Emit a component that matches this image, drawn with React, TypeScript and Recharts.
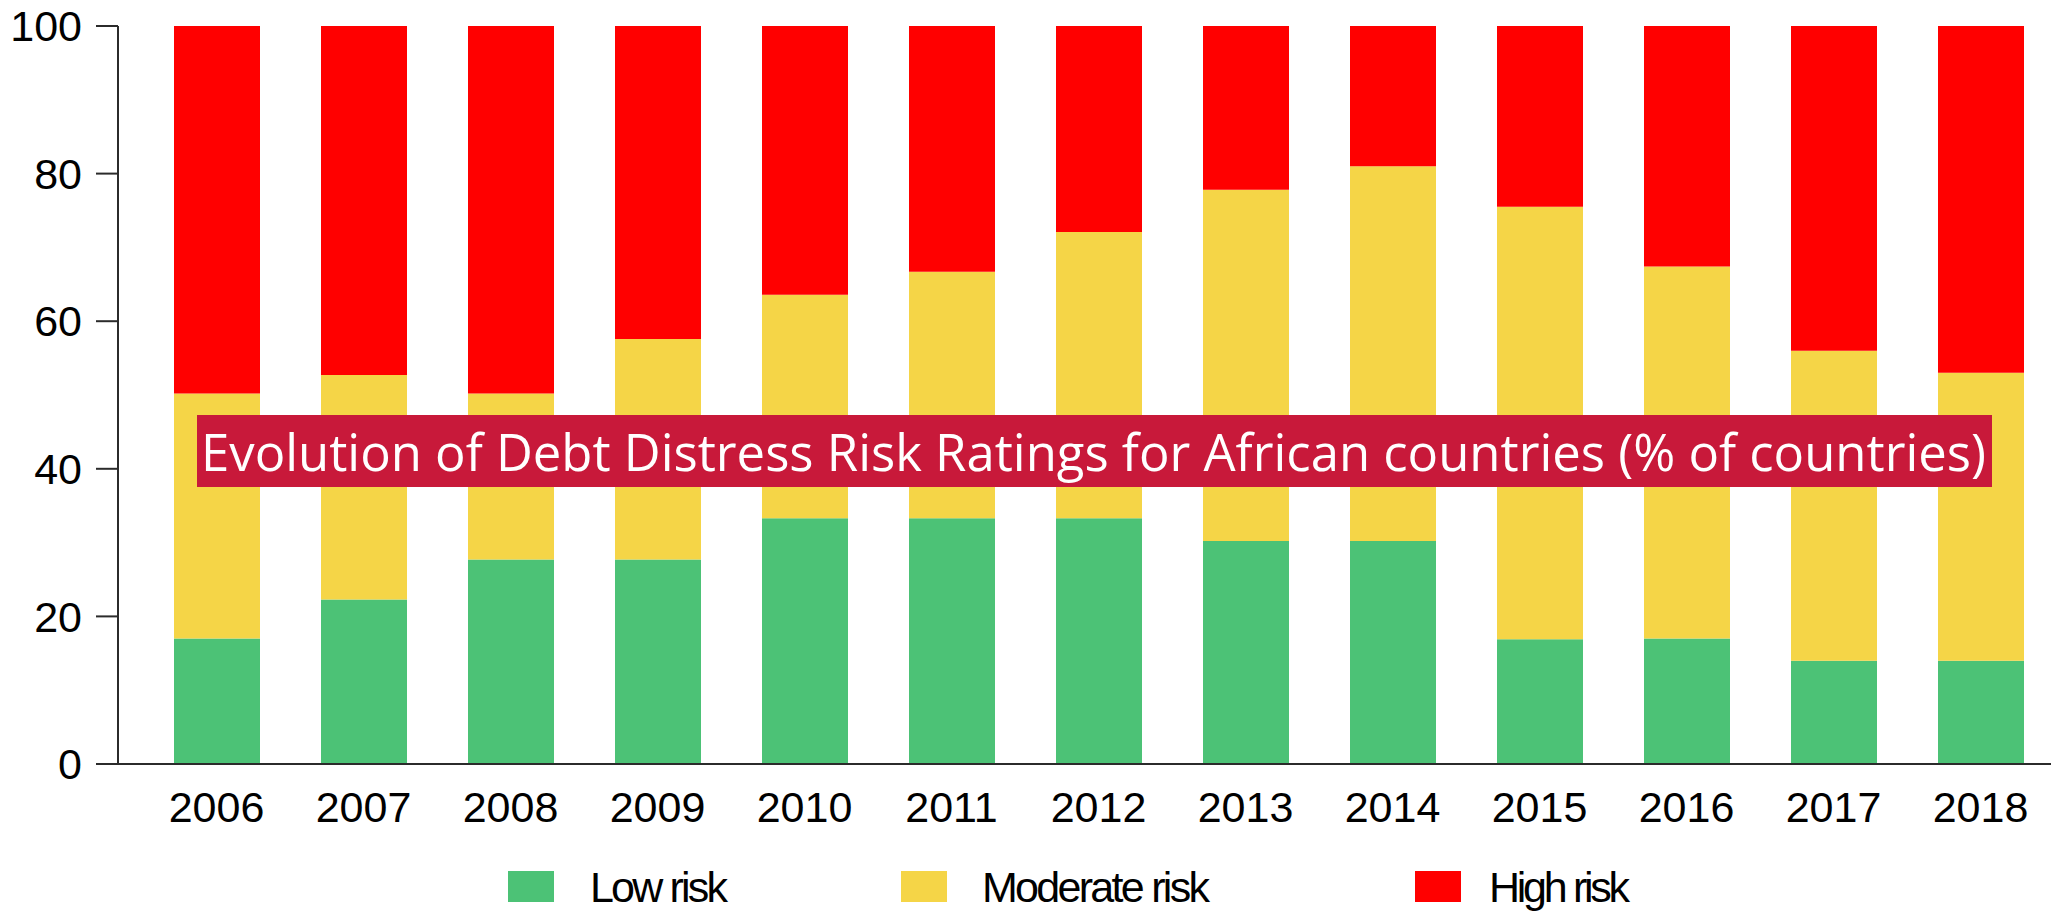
import { BarChart, Bar, XAxis, YAxis } from "recharts";

// values (% of countries)
const years = ["2006", "2007", "2008", "2009", "2010", "2011", "2012", "2013", "2014", "2015", "2016", "2017", "2018"];
const lowRisk = [17.0, 22.3, 27.7, 27.7, 33.3, 33.3, 33.3, 30.2, 30.2, 16.9, 17.0, 14.0, 14.0];
const moderateRisk = [33.2, 30.4, 22.5, 29.9, 30.3, 33.4, 38.8, 47.6, 50.8, 58.6, 50.4, 42.0, 39.0];
const highRisk = [49.8, 47.3, 49.8, 42.4, 36.4, 33.3, 27.9, 22.2, 19.0, 24.5, 32.6, 44.0, 47.0];
const yTicks = [0, 20, 40, 60, 80, 100];

const title = "Evolution of Debt Distress Risk Ratings for African countries (% of countries)";

const series = [
  { key: "low", name: "Low risk", color: "#4CC276" },
  { key: "moderate", name: "Moderate risk", color: "#F5D547" },
  { key: "high", name: "High risk", color: "#FF0000" },
];

const data = years.map((year, i) => ({
  year,
  low: lowRisk[i],
  moderate: moderateRisk[i],
  high: highRisk[i],
}));

const W = 2051;
const H = 912;
const axisColor = "#2b2b2b";
const font = "'Liberation Sans', Arial, sans-serif";

// legend layout (x of swatch, x of label, label width)
const legendPos = [
  { sx: 508, tx: 590, tw: 138 },
  { sx: 901, tx: 982, tw: 228 },
  { sx: 1415, tx: 1489, tw: 141 },
];

export default function App() {
  return (
    <div style={{ position: "absolute", left: 0, top: 0, width: W, height: H, background: "#fff" }}>
      <BarChart
        width={W}
        height={H}
        data={data}
        margin={{ top: 26, right: -3, bottom: 88, left: 0 }}
      >
        <YAxis
          width={118}
          domain={[0, 100]}
          ticks={yTicks}
          interval={0}
          tickSize={22}
          tickMargin={14}
          axisLine={{ stroke: axisColor, strokeWidth: 2 }}
          tickLine={{ stroke: axisColor, strokeWidth: 2 }}
          tick={{ fill: "#000", fontSize: 43, fontFamily: font }}
        />
        <XAxis
          dataKey="year"
          height={60}
          padding={{ left: 25, right: 0 }}
          tickLine={false}
          tickSize={0}
          tickMargin={27}
          interval={0}
          axisLine={{ stroke: axisColor, strokeWidth: 2 }}
          tick={{ fill: "#000", fontSize: 43, fontFamily: font }}
        />
        {series.map((s) => (
          <Bar
            key={s.key}
            dataKey={s.key}
            name={s.name}
            stackId="a"
            fill={s.color}
            barSize={86}
            isAnimationActive={false}
          />
        ))}
      </BarChart>

      <svg
        width={W}
        height={H}
        style={{ position: "absolute", left: 0, top: 0, pointerEvents: "none" }}
      >
        {/* title banner */}
        <rect x={197} y={415} width={1795} height={72} fill="#C8193A" />
        <text
          x={201}
          y={471}
          fill="#fff"
          fontSize={52}
          fontFamily="'Open Sans', 'Noto Sans', sans-serif"
          textLength={1785}
          lengthAdjust="spacingAndGlyphs"
        >
          {title}
        </text>

        {/* legend */}
        {series.map((s, i) => (
          <g key={s.key}>
            <rect x={legendPos[i].sx} y={871} width={46} height={31} fill={s.color} />
            <text
              x={legendPos[i].tx}
              y={902}
              fill="#000"
              fontSize={43}
              fontFamily={font}
              textLength={legendPos[i].tw}
              lengthAdjust="spacing"
            >
              {s.name}
            </text>
          </g>
        ))}
      </svg>
    </div>
  );
}
